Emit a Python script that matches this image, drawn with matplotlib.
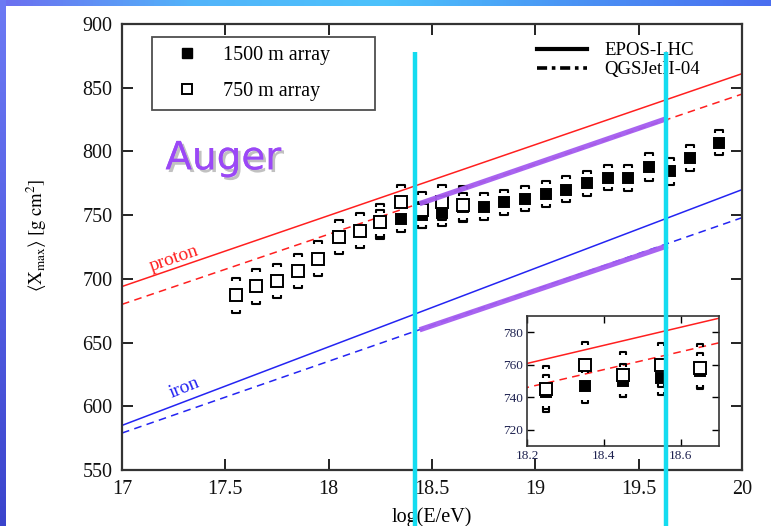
import numpy as np
import matplotlib
matplotlib.use("Agg")
import matplotlib.pyplot as plt
import matplotlib.patheffects as pe
from matplotlib.lines import Line2D
from matplotlib.path import Path
from matplotlib.colors import LinearSegmentedColormap

plt.rcParams["font.family"] = ["Liberation Serif", "DejaVu Serif"]
plt.rcParams["mathtext.fontset"] = "stix"

# 1500 m array (filled squares)
e1500 = [18.25, 18.35, 18.45, 18.55, 18.65, 18.75, 18.85, 18.95, 19.05,
         19.15, 19.25, 19.35, 19.45, 19.55, 19.65, 19.75, 19.89]
x1500 = [743.5, 747, 750, 752, 756, 756, 760, 763, 766.5,
         770, 775, 779.5, 779, 788, 784.5, 795, 807]
sys1500_up = [10.5, 10, 10.5, 10.5, 11, 11, 10, 10, 10.5,
              10.5, 10, 10, 10.5, 11, 10.5, 10, 10]
sys1500_lo = [10.5, 10.5, 10, 10.5, 10.5, 9.5, 10, 10, 10,
              10, 10, 10, 10, 11, 10.5, 10, 9.5]

# 750 m array (open squares)
e750 = [17.55, 17.65, 17.75, 17.85, 17.95, 18.05, 18.15,
        18.25, 18.35, 18.45, 18.55, 18.65]
x750 = [687, 694.5, 698.5, 706, 715.5, 732.5, 737.5,
        745, 760, 754, 760, 758]
sys750_up = [13.5, 13, 13.5, 13.5, 14, 14, 14, 14, 14, 14, 13.5, 15]
sys750_lo = [13.5, 14, 13.5, 13.5, 13.5, 13, 13.5, 14, 14, 14, 13.5, 13]

# model predictions (values at log(E/eV) = 17 and 20)
model_e = [17, 20]
p_epos = [694, 861]
p_qgs = [680, 845]
fe_epos = [585, 770]
fe_qgs = [579, 748]

# highlighted segments and energy cuts drawn on top
hl_e = [18.44, 19.64]
hl_top = [759, 826]
hl_bot = [660, 726]
cut_e = [18.42, 19.63]
cut_y = [878, 505]

xticks = [17, 17.5, 18, 18.5, 19, 19.5, 20]
xticklabels = ["17", "17.5", "18", "18.5", "19", "19.5", "20"]
yticks = [550, 600, 650, 700, 750, 800, 850, 900]
in_xticks = [18.2, 18.4, 18.6]
in_yticks = [720, 740, 760, 780]

RED = "#ff1f1f"
BLUE = "#2424f2"
PURPLE = "#a45cf0"
CYAN = "#14dcf0"

cap_up = Path([(-1, -0.8), (-1, 0), (1, 0), (1, -0.8)])
cap_lo = Path([(-1, 0.8), (-1, 0), (1, 0), (1, 0.8)])


def draw_series(ax, e, x, up, lo, filled, ms, cap_ms):
    x = np.array(x)
    ax.plot(e, x + np.array(up), ls="none", marker=cap_up, ms=cap_ms,
            mew=1.5, mfc="none", mec="black", zorder=4)
    ax.plot(e, x - np.array(lo), ls="none", marker=cap_lo, ms=cap_ms,
            mew=1.5, mfc="none", mec="black", zorder=4)
    face = "black" if filled else "white"
    ax.plot(e, x, ls="none", marker="s", ms=ms - 0.8 if filled else ms,
            mfc=face, mec="black", mew=1.4, zorder=5)


def draw_models(ax):
    ax.plot(model_e, p_epos, color=RED, lw=1.1)
    ax.plot(model_e, p_qgs, color=RED, lw=1.1, dashes=(5, 3.5))
    ax.plot(model_e, fe_epos, color=BLUE, lw=1.1)
    ax.plot(model_e, fe_qgs, color=BLUE, lw=1.1, dashes=(5, 3.5))


W, H = 771, 526
fig = plt.figure(figsize=(W / 100, H / 100), dpi=100)
fig.patch.set_facecolor("white")

# slide border gradients
grad = np.linspace(0, 1, 256)
top = fig.add_axes([0, 1 - 6 / H, 1, 6 / H])
top.imshow(grad[None, :], aspect="auto",
           cmap=LinearSegmentedColormap.from_list(
               "t", ["#6c6ef0", "#52b4fa", "#4cc2fc", "#4a92f4", "#4a6ef0"]))
top.axis("off")
left = fig.add_axes([0, 0, 6 / W, 1])
left.imshow(grad[:, None], aspect="auto",
            cmap=LinearSegmentedColormap.from_list(
                "l", ["#6c7af4", "#5560e4", "#3a44cc"]))
left.axis("off")

ax = fig.add_axes([122 / W, 1 - 470 / H, 620 / W, 446 / H])
draw_models(ax)
draw_series(ax, e1500, x1500, sys1500_up, sys1500_lo, True, 8, 5.5)
draw_series(ax, e750, x750, sys750_up, sys750_lo, False, 8, 5.5)

ax.set_xlim(17, 20)
ax.set_ylim(550, 900)
ax.set_xticks(xticks)
ax.set_xticklabels(xticklabels)
ax.set_yticks(yticks)
ax.tick_params(direction="in", length=8, width=1.3, top=True, right=True,
               labelsize=14.5, pad=7, colors="#111111")
for s in ax.spines.values():
    s.set_linewidth(1.6)
    s.set_color("#333333")
ax.set_xlabel("log(E/eV)", fontsize=14.5, labelpad=6)
ax.set_ylabel(r"$\langle\mathrm{X}_{\mathrm{max}}\rangle\;[\mathrm{g\ cm}^{2}]$",
              fontsize=13.5)
ax.yaxis.set_label_coords(-0.118, 0.527)

ax.text(17.25, 716, "proton", color=RED, fontsize=14, rotation=19,
        ha="center", va="center", rotation_mode="anchor")
ax.text(17.3, 614, "iron", color=BLUE, fontsize=14, rotation=22,
        ha="center", va="center", rotation_mode="anchor")

auger = ax.text(17.49, 786, "Auger", color="#9b48f6", fontsize=28,
                family="DejaVu Sans", ha="center", va="baseline")
auger.set_path_effects([pe.withSimplePatchShadow(offset=(2, -2),
                                                 shadow_rgbFace="#777777",
                                                 alpha=0.45),
                        pe.Normal()])

# legends
h_data = [Line2D([], [], ls="none", marker="s", ms=7, mfc="black", mec="black"),
          Line2D([], [], ls="none", marker="s", ms=7, mfc="white", mec="black",
                 mew=1.4)]
leg1 = ax.legend(h_data, ["1500 m array", "750 m array"], loc="upper left",
                 bbox_to_anchor=((152 - 122) / 620, (470 - 41) / 446,
                                 (375 - 152) / 620, 0.01),
                 mode="expand", fontsize=14.5, frameon=True, fancybox=False,
                 edgecolor="#222222", borderpad=0.45, labelspacing=0.85,
                 handlelength=2.6, handletextpad=0.5, borderaxespad=0)
leg1.get_frame().set_linewidth(1.3)
ax.add_artist(leg1)

h_mod = [Line2D([], [], color="black", lw=3),
         Line2D([], [], color="black", lw=2.6, ls=(0, (2.8, 1.3, 1, 1.3)))]
ax.legend(h_mod, ["EPOS-LHC", "QGSJetII-04"], loc="upper left",
          bbox_to_anchor=((537 - 122) / 620, (470 - 42) / 446),
          frameon=False, fontsize=13.5, borderpad=0, borderaxespad=0,
          handlelength=2.65, handletextpad=0.95, labelspacing=0.1)

# inset zoom
ins = fig.add_axes([527 / W, 1 - 446 / H, 192 / W, 130 / H])
draw_models(ins)
draw_series(ins, e1500, x1500, sys1500_up, sys1500_lo, True, 8.5, 5)
draw_series(ins, e750, x750, sys750_up, sys750_lo, False, 8.5, 5)
ins.set_xlim(18.2, 18.7)
ins.set_ylim(710, 790)
ins.set_xticks(in_xticks)
ins.set_xticklabels(["18.2", "18.4", "18.6"])
ins.set_yticks(in_yticks)
ins.tick_params(direction="in", length=5, width=1.0, top=True, right=True,
                labelsize=9.5, pad=3, labelcolor="#1e2250")
for s in ins.spines.values():
    s.set_linewidth(1.2)
    s.set_color("#333333")

# overlays drawn above every axes
for xs, ys in [(hl_e, hl_top), (hl_e, hl_bot)]:
    fig.add_artist(Line2D(xs, ys, color=PURPLE, lw=3.8, alpha=0.95,
                          solid_capstyle="butt", transform=ax.transData,
                          zorder=6))
for xc in cut_e:
    fig.add_artist(Line2D([xc, xc], cut_y, color=CYAN, lw=3.2,
                          solid_capstyle="butt", transform=ax.transData,
                          zorder=7))

fig.savefig("out.png", dpi=100)
